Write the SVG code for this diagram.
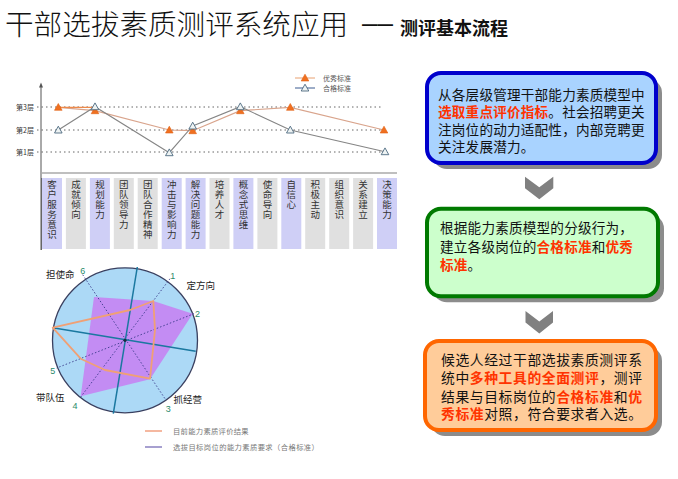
<svg xmlns="http://www.w3.org/2000/svg" width="678" height="479" viewBox="0 0 678 479">
<defs>
<style>
text{font-family:"Noto Sans CJK SC","Liberation Sans",sans-serif;}
.col{font-size:9.5px;fill:#333;writing-mode:vertical-rl;letter-spacing:0.5px;}
.lvl{font-size:7px;fill:#333;}
.lg{font-size:7px;fill:#555;}
.bt{font-size:13.6px;fill:#111;letter-spacing:0.2px;}
.bt3{font-size:13.8px;fill:#111;letter-spacing:0.6px;}
.red{fill:#ff3300;font-weight:bold;}
.num{font-size:9px;fill:#2a8a6a;text-anchor:middle;font-family:"Liberation Sans",sans-serif;}
.rl{font-size:9.5px;fill:#222;}
.cp{fill:#cfcff6;}
.cg{fill:#e0e0e0;}
.dot{stroke:#666;stroke-width:1;stroke-dasharray:1.5 3;fill:none;}
.chev{fill:#808080;}
</style>
<polygon id="tf" points="0,-3.8 3.8,3 -3.8,3" fill="#f07020" stroke="#e06010" stroke-width="0.6"/>
<polygon id="th" points="0,-3.8 3.8,3 -3.8,3" fill="#eef3f3" stroke="#4d6a80" stroke-width="0.9"/>
</defs>

<g id="title">
<text x="5" y="34.5" font-size="28.6" fill="#111" font-weight="300">干部选拔素质测评系统应用</text>
<text x="362" y="30" font-size="16" fill="#111" font-weight="bold" textLength="31" lengthAdjust="spacingAndGlyphs" style="font-family:'Liberation Sans',sans-serif">——</text>
<text x="400" y="34.5" font-size="18" fill="#111" font-weight="bold">测评基本流程</text>
</g>

<g id="line-chart">
<line x1="41" y1="250" x2="41" y2="86" stroke="#555" stroke-width="1"/>
<polygon points="41,82.5 39,87.5 43,87.5" fill="#555"/>
<line x1="41" y1="173" x2="397" y2="173" stroke="#aaa" stroke-width="1.5"/>
<text class="lvl" x="16" y="109.5">第3层</text>
<text class="lvl" x="16" y="132.5">第2层</text>
<text class="lvl" x="16" y="154.5">第1层</text>
<line class="dot" x1="37" y1="107" x2="381" y2="107"/>
<line class="dot" x1="37" y1="130" x2="381" y2="130"/>
<line class="dot" x1="37" y1="152" x2="381" y2="152"/>
<polyline points="58.3,107.3 95,110.7 169.3,130 192.7,130.7 240.3,110.7 290.3,107.3 384,130" fill="none" stroke="#d9a48c" stroke-width="1.2"/>
<line x1="58.3" y1="107.3" x2="95" y2="107.3" stroke="#ef8a4a" stroke-width="1.2"/>
<polyline points="58.3,130 95,106.7 169.3,152.7 192.7,126 240.3,106.7 290.3,130 385,151.7" fill="none" stroke="#858585" stroke-width="1.1"/>
<use href="#tf" x="58.3" y="107.3"/><use href="#tf" x="95" y="110.7"/><use href="#tf" x="169.3" y="130"/><use href="#tf" x="192.7" y="130.7"/><use href="#tf" x="240.3" y="110.7"/><use href="#tf" x="290.3" y="107.3"/><use href="#tf" x="384" y="130"/>
<use href="#th" x="58.3" y="130"/><use href="#th" x="95" y="106.7"/><use href="#th" x="169.3" y="152.7"/><use href="#th" x="192.7" y="126"/><use href="#th" x="240.3" y="106.7"/><use href="#th" x="290.3" y="130"/><use href="#th" x="385" y="151.7"/>
<line x1="295" y1="78" x2="315" y2="78" stroke="#e8a070" stroke-width="1"/>
<use href="#tf" x="305" y="78"/>
<text class="lg" x="323" y="80.5">优秀标准</text>
<line x1="295" y1="88" x2="315" y2="88" stroke="#3a5a90" stroke-width="1"/>
<use href="#th" x="305" y="88"/>
<text class="lg" x="323" y="90.5">合格标准</text>

<rect class="cp" x="42" y="178" width="20" height="71"/>
<rect class="cg" x="65.9" y="178" width="20" height="71"/>
<rect class="cp" x="89.9" y="178" width="20" height="71"/>
<rect class="cg" x="113.8" y="178" width="20" height="71"/>
<rect class="cg" x="137.7" y="178" width="20" height="71"/>
<rect class="cp" x="161.7" y="178" width="20" height="71"/>
<rect class="cp" x="185.6" y="178" width="20" height="71"/>
<rect class="cg" x="209.5" y="178" width="20" height="71"/>
<rect class="cp" x="233.4" y="178" width="20" height="71"/>
<rect class="cg" x="257.4" y="178" width="20" height="71"/>
<rect class="cp" x="281.3" y="178" width="20" height="71"/>
<rect class="cg" x="305.2" y="178" width="20" height="71"/>
<rect class="cg" x="329.2" y="178" width="20" height="71"/>
<rect class="cg" x="353.1" y="178" width="20" height="71"/>
<rect class="cp" x="377" y="178" width="20" height="71"/>
<line x1="41.5" y1="178" x2="41.5" y2="250" stroke="#666" stroke-width="1"/>

<text class="col" x="52" y="180">客户服务意识</text>
<text class="col" x="75.9" y="180">成就倾向</text>
<text class="col" x="99.9" y="180">规划能力</text>
<text class="col" x="123.8" y="180">团队领导力</text>
<text class="col" x="147.7" y="180">团队合作精神</text>
<text class="col" x="171.7" y="180">冲击与影响力</text>
<text class="col" x="195.6" y="180">解决问题能力</text>
<text class="col" x="219.5" y="180">培养人才</text>
<text class="col" x="243.4" y="180">概念式思维</text>
<text class="col" x="267.4" y="180">使命导向</text>
<text class="col" x="291.3" y="180">自信心</text>
<text class="col" x="315.2" y="180">积极主动</text>
<text class="col" x="339.2" y="180">组织意识</text>
<text class="col" x="363.1" y="180">关系建立</text>
<text class="col" x="387" y="180">决策能力</text>
</g>

<g id="radar-chart">
<circle cx="125" cy="340.3" r="72.5" fill="#acd9f6" stroke="#3a4060" stroke-width="1.3"/>
<polygon points="94,297 153.3,301 192.7,313.7 150,379.3 80.7,396.3" fill="#c486f2" fill-opacity="0.92"/>
<g stroke="#3a3a8a" stroke-width="0.9" stroke-dasharray="1.5 2" fill="none">
<line x1="82.7" y1="274.7" x2="165" y2="398.7"/>
<line x1="170" y1="278.7" x2="80.7" y2="397"/>
<line x1="194" y1="313.7" x2="56.7" y2="368"/>
</g>
<line x1="137.3" y1="267" x2="113.3" y2="413.7" stroke="#1a78a0" stroke-width="1.5"/>
<line x1="52.7" y1="327.7" x2="195.7" y2="351.3" stroke="#1a78a0" stroke-width="1.5"/>
<polygon points="52.7,327.7 130,310 153.3,301 155,330 150,378.7 105,370 80.7,358.7" fill="none" stroke="#f0a075" stroke-width="1.8" stroke-linejoin="round"/>
<circle cx="125" cy="340.3" r="1.6" fill="#1a2a40"/>
<text class="num" x="172.7" y="279">1</text>
<text class="num" x="197.5" y="317">2</text>
<text class="num" x="168.3" y="412">3</text>
<text class="num" x="75" y="408.5">4</text>
<text class="num" x="52.7" y="374">5</text>
<text class="num" x="82.7" y="273.5">6</text>
<text class="rl" x="46" y="277.5">担使命</text>
<text class="rl" x="186.5" y="288.5">定方向</text>
<text class="rl" x="173.5" y="402.5">抓经营</text>
<text class="rl" x="36" y="400.5">带队伍</text>
<line x1="145" y1="431" x2="162" y2="431" stroke="#f2a080" stroke-width="1.5"/>
<text x="173" y="433.5" font-size="7.3" fill="#777" letter-spacing="0.3">目前能力素质评价结果</text>
<line x1="145" y1="447" x2="162" y2="447" stroke="#8a80c0" stroke-width="1.5"/>
<text x="173" y="449.5" font-size="7.3" fill="#777" letter-spacing="0.4">选拔目标岗位的能力素质要求（合格标准）</text>
</g>

<g id="box1">
<rect x="433" y="79" width="229" height="90" rx="14" fill="#8c8c8c"/>
<rect x="427" y="73" width="229" height="90" rx="14" fill="#a9d3ff" stroke="#0000cc" stroke-width="4"/>
<text class="bt" x="438" y="99.5">从各层级管理干部能力素质模型中</text>
<text class="bt" x="438" y="117"><tspan class="red">选取重点评价指标</tspan>。社会招聘更关</text>
<text class="bt" x="438" y="134.5">注岗位的动力适配性，内部竞聘更</text>
<text class="bt" x="438" y="152">关注发展潜力。</text>
</g>

<g id="box2">
<rect x="433" y="214.7" width="231" height="87.6" rx="14" fill="#8c8c8c"/>
<rect x="427" y="208.7" width="231" height="87.6" rx="14" fill="#ccffcc" stroke="#007a00" stroke-width="4"/>
<text class="bt" x="440" y="233">根据能力素质模型的分级行为，</text>
<text class="bt" x="440" y="251.5">建立各级岗位的<tspan class="red">合格标准</tspan>和<tspan class="red">优秀</tspan></text>
<text class="bt" x="440" y="270"><tspan class="red">标准</tspan>。</text>
</g>

<g id="box3">
<rect x="431" y="347" width="231" height="89" rx="14" fill="#8c8c8c"/>
<rect x="425" y="341" width="231" height="89" rx="14" fill="#ffcc9a" stroke="#ff6600" stroke-width="4"/>
<text class="bt3" x="441" y="365">候选人经过干部选拔素质测评系</text>
<text class="bt3" x="441" y="383">统中<tspan class="red">多种工具的全面测评</tspan>，测评</text>
<text class="bt3" x="441" y="401.5">结果与目标岗位的<tspan class="red">合格标准</tspan>和<tspan class="red">优</tspan></text>
<text class="bt3" x="441" y="419"><tspan class="red">秀标准</tspan>对照，符合要求者入选。</text>
</g>

<g id="connectors">
<polygon class="chev" points="525,176.7 539.3,187.3 553.3,176.7 553.3,188.3 539.3,199.3 525,188.3"/>
<polygon class="chev" points="525.5,311 539.3,321.6 553,311 553,322.6 539.3,333.6 525.5,322.6"/>
</g>
</svg>
